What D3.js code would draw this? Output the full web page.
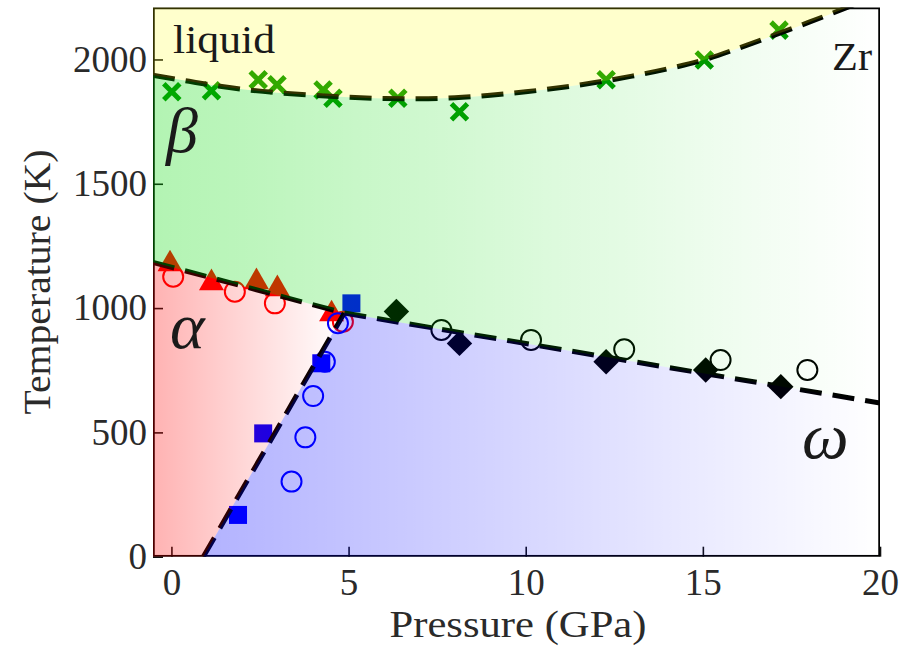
<!DOCTYPE html>
<html><head><meta charset="utf-8">
<script src="https://cdn.jsdelivr.net/npm/d3@7"></script>
<style>body{margin:0;background:#fff} svg{display:block}</style>
</head><body>
<svg id="c" width="909" height="654"></svg>
<script>
// ---- data ----
const xTicks = [0, 5, 10, 15, 20];
const yTicks = [0, 500, 1000, 1500, 2000];
// melting (liquid / beta) boundary
const meltP = [-0.52, 0.5, 1, 2, 3, 4, 5, 6, 7, 8, 9, 10, 11, 12, 13, 14, 15, 16, 17, 18, 19, 20];
const meltT = [1936, 1912, 1900, 1880, 1866, 1856, 1848, 1843, 1842, 1846, 1856, 1870, 1887, 1908, 1933, 1962, 1997, 2045, 2097, 2150, 2205, 2262];
// solid-solid boundaries
const alphaBetaP = [-0.52, 4.88];
const alphaBetaT = [1184, 980];
const betaOmegaP = [4.88, 20];
const betaOmegaT = [980, 618];
const alphaOmegaP = [0.9, 4.88];
const alphaOmegaT = [0, 980];
// measured points
const crossP = [0.01, 1.13, 2.45, 2.98, 4.28, 4.56, 6.39, 8.13, 12.27, 15.04, 17.15];
const crossT = [1870, 1874, 1918, 1898, 1877, 1844, 1844, 1790, 1918, 1998, 2118];
const triP = [-0.04, 1.13, 2.40, 2.99, 4.52];
const triT = [1177, 1101, 1105, 1077, 976];
const redCircP = [0.05, 1.79, 2.92, 4.84];
const redCircT = [1126, 1066, 1019, 945];
const blueCircP = [4.70, 4.33, 4.00, 3.78, 3.39];
const blueCircT = [939, 784, 646, 480, 302];
const blueSqP = [5.08, 4.23, 2.59, 1.88];
const blueSqT = [1019, 778, 496, 168];
const diamP = [6.35, 8.13, 12.27, 15.08, 17.2];
const diamT = [986, 858, 784, 751, 684];
const blackCircP = [7.62, 10.15, 12.78, 15.5, 17.95];
const blackCircT = [912, 872, 834, 791, 751];

// ---- layout ----
const L = 153, R = 880, T = 7.5, B = 556.7;
const FONT = "'Liberation Serif', 'Times New Roman', serif";
const x = d3.scaleLinear().domain([-0.52, 20]).range([L, R]);
const y = d3.scaleLinear().domain([0, 2209]).range([B, T]);
const svg = d3.select("#c");
const zip = (a, b) => a.map((v, i) => [v, b[i]]);
const melt = zip(meltP, meltT);
const ab = zip(alphaBetaP, alphaBetaT);
const bo = zip(betaOmegaP, betaOmegaT);
const ao = zip(alphaOmegaP, alphaOmegaT);

const defs = svg.append("defs");
defs.append("clipPath").attr("id", "clip").append("rect")
  .attr("x", L).attr("y", T).attr("width", R - L).attr("height", B - T);
function grad(id, color, x1, x2, a) {
  const g = defs.append("linearGradient").attr("id", id)
    .attr("gradientUnits", "userSpaceOnUse")
    .attr("x1", x1).attr("x2", x2).attr("y1", 0).attr("y2", 0);
  g.append("stop").attr("offset", 0).attr("stop-color", color).attr("stop-opacity", a);
  g.append("stop").attr("offset", 1).attr("stop-color", color).attr("stop-opacity", 0);
}
grad("gGreen", "rgb(0,218,0)", x(-0.52), x(20), 0.3);
grad("gRed", "rgb(255,0,0)", x(-0.52), x(4.88), 0.3);
grad("gBlue", "rgb(0,0,255)", x(0.9), x(20), 0.3);

// ---- axes (ticks inside) ----
const xAxis = d3.axisBottom(x).tickValues(xTicks).tickSize(-10).tickPadding(12).tickFormat(d3.format("d"));
const yAxis = d3.axisLeft(y).tickValues(yTicks).tickSize(-10).tickPadding(6).tickFormat(d3.format("d"));
const gx = svg.append("g").attr("transform", `translate(0,${B})`).call(xAxis);
const gy = svg.append("g").attr("transform", `translate(${L},0)`).call(yAxis);
[gx, gy].forEach(g => {
  g.select(".domain").remove();
  g.selectAll(".tick line").attr("stroke", "#111").attr("stroke-width", 1.6);
  g.selectAll(".tick text").attr("fill", "#2a2a2a").style("font-family", FONT).style("font-size", "37px");
});

const plot = svg.append("g").attr("clip-path", "url(#clip)");

// ---- markers ----
const pts = (P, Tv) => zip(P, Tv);
plot.selectAll(".tri").data(pts(triP, triT)).join("path")
  .attr("d", d3.symbol(d3.symbolTriangle, 270))
  .attr("transform", d => `translate(${x(d[0])},${y(d[1])})`)
  .attr("fill", "#ff0000");
plot.selectAll(".sq").data(pts(blueSqP, blueSqT)).join("rect")
  .attr("x", d => x(d[0]) - 9).attr("y", d => y(d[1]) - 9)
  .attr("width", 18).attr("height", 18).attr("fill", "#0000ff");
plot.selectAll(".dm").data(pts(diamP, diamT)).join("rect")
  .attr("x", -9).attr("y", -9).attr("width", 18).attr("height", 18)
  .attr("transform", d => `translate(${x(d[0])},${y(d[1])}) rotate(45)`)
  .attr("fill", "#000");
function circles(P, Tv, col) {
  plot.append("g").selectAll("circle").data(pts(P, Tv)).join("circle")
    .attr("cx", d => x(d[0])).attr("cy", d => y(d[1])).attr("r", 10)
    .attr("fill", "none").attr("stroke", col).attr("stroke-width", 2);
}
circles(redCircP, redCircT, "#ff0000");
circles(blueCircP, blueCircT, "#0000ff");
circles(blackCircP, blackCircT, "#000");
plot.selectAll(".cr").data(pts(crossP, crossT)).join("path")
  .attr("d", "M-8,-8L8,8M-8,8L8,-8")
  .attr("transform", d => `translate(${x(d[0])},${y(d[1])})`)
  .attr("stroke", "#009400").attr("stroke-width", 5).attr("fill", "none");

// ---- dashed boundaries ----
const lineC = d3.line().x(d => x(d[0])).y(d => y(d[1])).curve(d3.curveMonotoneX);
const lineS = d3.line().x(d => x(d[0])).y(d => y(d[1]));
const dash = p => p.attr("fill", "none").attr("stroke", "#000").attr("stroke-width", 5).attr("stroke-dasharray", "22,11");
plot.append("path").attr("d", lineC(melt)).call(dash);
plot.append("path").attr("d", lineS(ab.concat(bo.slice(1)))).call(dash);
plot.append("path").attr("d", lineS(ao)).call(dash);

// ---- frame ----
plot.append("rect").attr("x", L).attr("y", T).attr("width", R - L).attr("height", B - T)
  .attr("fill", "none").attr("stroke", "#000").attr("stroke-width", 3.5);

// ---- translucent phase regions (on top) ----
const topT = 2500;
const meltPath = lineC(melt);
const Lto = (p) => `L${x(p[0])},${y(p[1])}`;
// liquid
plot.append("path").attr("d", meltPath + Lto([20, topT]) + Lto([-0.52, topT]) + "Z")
  .attr("fill", "rgb(255,255,0)").attr("fill-opacity", 0.2);
// beta
const lowerB = bo.slice().reverse().concat(ab.slice().reverse().slice(1));
plot.append("path").attr("d", meltPath + lowerB.map(Lto).join("") + "Z")
  .attr("fill", "url(#gGreen)");
// alpha
const alphaPoly = ab.concat(ao.slice().reverse().slice(1)).concat([[-0.52, 0]]);
plot.append("path").attr("d", lineS(alphaPoly) + "Z").attr("fill", "url(#gRed)");
// omega
const omegaPoly = ao.concat(bo.slice(1)).concat([[20, 0]]);
plot.append("path").attr("d", lineS(omegaPoly) + "Z").attr("fill", "url(#gBlue)");

// ---- labels ----
const txt = (s, xx, yy, size, opts = {}) => {
  const t = svg.append("text").attr("x", xx).attr("y", yy).text(s)
    .style("font-family", FONT).style("font-size", size + "px").attr("fill", "#1a1a1a");
  if (opts.anchor) t.attr("text-anchor", opts.anchor);
  if (opts.italic) t.style("font-style", "italic");
  if (opts.len) t.attr("textLength", opts.len).attr("lengthAdjust", "spacingAndGlyphs");
  return t;
};
txt("liquid", 173, 53, 40, {len: 102});
txt("Zr", 872, 70, 40, {anchor: "end", len: 40});
txt("β", 166, 152, 64, {italic: true});
txt("α", 170, 348, 66, {italic: true});
txt("ω", 802, 458, 66, {italic: true});
txt("Pressure (GPa)", 518, 637, 37, {anchor: "middle", len: 257}).attr("fill", "#2a2a2a");
svg.append("text").attr("transform", "translate(50,282) rotate(-90)")
  .attr("text-anchor", "middle").text("Temperature (K)")
  .style("font-family", FONT).style("font-size", "37px").attr("fill", "#2a2a2a")
  .attr("textLength", 265).attr("lengthAdjust", "spacingAndGlyphs");
</script>
</body></html>
